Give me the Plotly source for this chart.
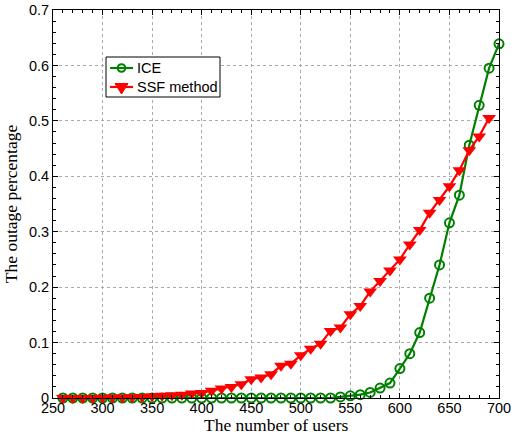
import plotly.graph_objects as go

users = list(range(260, 701, 10))
ice = [0.0]*28 + [0.002, 0.004, 0.006, 0.010, 0.018, 0.027, 0.053, 0.080, 0.118,
                  0.180, 0.240, 0.316, 0.366, 0.456, 0.528, 0.595, 0.639]
ssf = [0.0, 0.0, 0.0, 0.0, 0.0005, 0.001, 0.001, 0.0015, 0.002, 0.003, 0.004, 0.005,
       0.006, 0.008, 0.009, 0.013, 0.017, 0.020, 0.025, 0.034, 0.037, 0.043, 0.058,
       0.062, 0.077, 0.089, 0.098, 0.121, 0.127, 0.151, 0.166, 0.192, 0.211, 0.230,
       0.250, 0.277, 0.303, 0.334, 0.357, 0.382, 0.411, 0.447, 0.472, 0.505]
series_names = ["ICE", "SSF method"]
x_title = "The number of users"
y_title = "The outage percentage"

GREEN = "rgb(0,128,0)"
RED = "rgb(255,0,0)"

fig = go.Figure()
fig.add_trace(go.Scatter(x=users, y=ice, name=series_names[0], mode="lines+markers",
                         cliponaxis=False, showlegend=False,
                         line=dict(color=GREEN, width=2.2),
                         marker=dict(symbol="circle-open", size=9, color=GREEN,
                                     line=dict(width=2, color=GREEN))))
fig.add_trace(go.Scatter(x=users, y=ssf, name=series_names[1], mode="lines+markers",
                         cliponaxis=False, showlegend=False,
                         line=dict(color=RED, width=2.2),
                         marker=dict(symbol="triangle-down", size=12, color=RED)))

axis_common = dict(showline=True, linecolor="black", linewidth=1, mirror="allticks",
                   ticks="inside", ticklen=5, tickcolor="black", automargin=False,
                   showgrid=True, gridcolor="rgb(170,170,170)", griddash="dot", gridwidth=1,
                   zeroline=False, ticklabeloverflow="allow",
                   tickfont=dict(family="Liberation Sans, Arial", size=14.5, color="black"))

# --- custom legend (box, sample lines, markers, labels) ---
L, R_, T, B = 53, 499, 10, 398
def px(x): return (x - L) / (R_ - L)
def py(y): return (B - y) / (B - T)

shapes = [dict(type="rect", xref="paper", yref="paper", x0=px(106), x1=px(220),
               y0=py(97), y1=py(57), line=dict(color="black", width=1), fillcolor="white")]
rows = [(68, GREEN), (87, RED)]
for yy, col in rows:
    shapes.append(dict(type="line", xref="paper", yref="paper", x0=px(110), x1=px(133),
                       y0=py(yy), y1=py(yy), line=dict(color=col, width=2.2)))
shapes.append(dict(type="circle", xref="paper", yref="paper", xsizemode="pixel", ysizemode="pixel",
                   xanchor=px(121.5), yanchor=py(68), x0=-3.8, x1=3.8, y0=-3.8, y1=3.8,
                   line=dict(color=GREEN, width=2), fillcolor="rgba(0,0,0,0)"))
shapes.append(dict(type="path", xref="paper", yref="paper", xsizemode="pixel", ysizemode="pixel",
                   xanchor=px(121.5), yanchor=py(87), path="M -6.5 3.5 L 6.5 3.5 L 0 -7 Z",
                   line=dict(color=RED, width=1), fillcolor=RED))
annotations = []
for (yy, col), name in zip(rows, series_names):
    annotations.append(dict(xref="paper", yref="paper", x=px(135), y=py(yy), text=name,
                            showarrow=False, xanchor="left", yanchor="middle",
                            font=dict(family="Liberation Sans, Arial", size=14.5, color="black")))
# x-axis title as annotation for precise placement
annotations.append(dict(xref="paper", yref="paper", x=px(276.5), y=py(424.5), text=x_title,
                        showarrow=False, xanchor="center", yanchor="middle",
                        font=dict(family="Liberation Serif, Times New Roman", size=17.5, color="black")))

fig.update_layout(
    width=511, height=435,
    margin=dict(l=53, r=12, t=10, b=37),
    plot_bgcolor="white", paper_bgcolor="white",
    showlegend=False,
    shapes=shapes, annotations=annotations,
    xaxis=dict(range=[250, 700], dtick=50, tick0=250, ticklabelstandoff=-3,
               minor=dict(dtick=10, ticks="inside", ticklen=3, tickcolor="black", showgrid=False),
               **axis_common),
    yaxis=dict(range=[0, 0.7], dtick=0.1, tickformat="~g",
               minor=dict(dtick=0.02, ticks="inside", ticklen=3, tickcolor="black", showgrid=False),
               title=dict(text=y_title, standoff=6,
                          font=dict(family="Liberation Serif, Times New Roman", size=17.5, color="black")),
               **axis_common),
)
fig.write_html("out.html")
